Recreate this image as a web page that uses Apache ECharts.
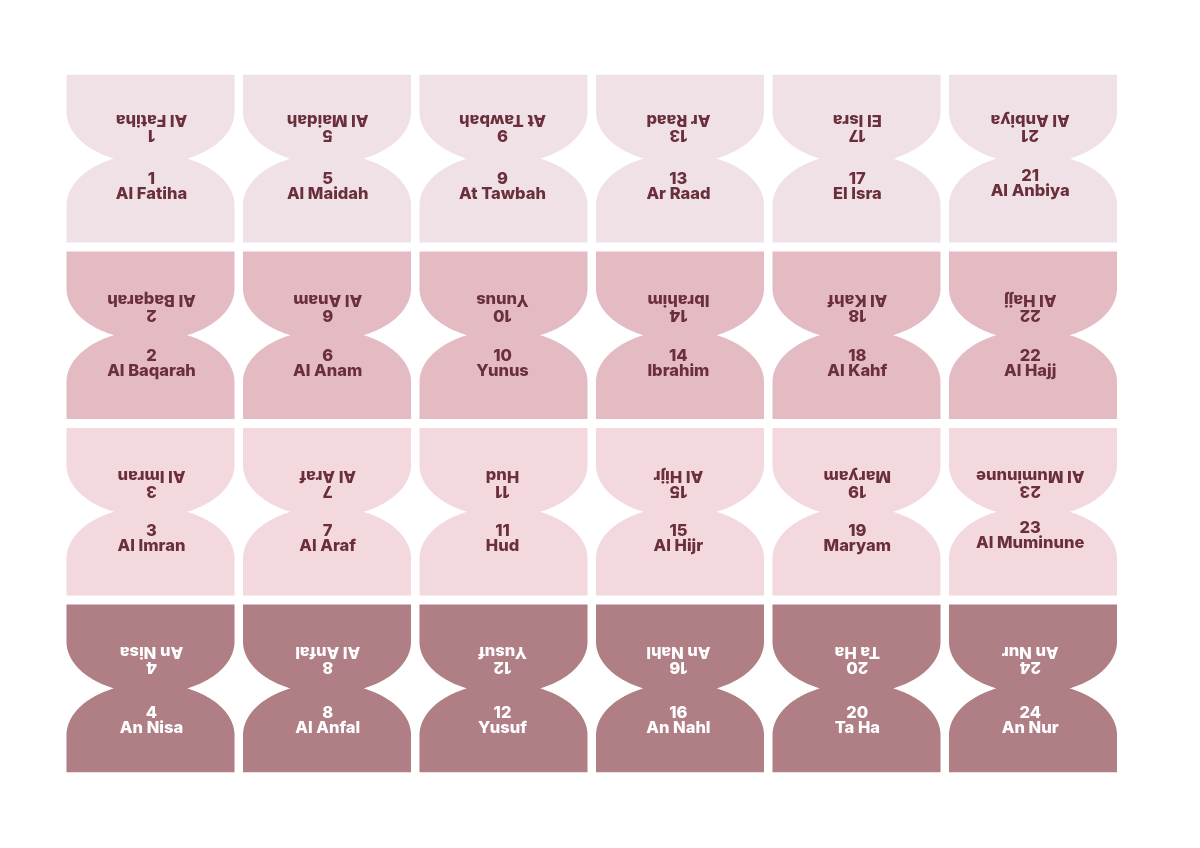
<!DOCTYPE html>
<html><head><meta charset="utf-8">
<style>html,body{margin:0;padding:0;background:#fff}#c{width:1200px;height:848px}</style>
<script src="https://cdn.jsdelivr.net/npm/echarts@6/dist/echarts.min.js"></script>
</head><body><div id="c"></div>
<script>
var surahNumbers = [1,2,3,4,5,6,7,8,9,10,11,12,13,14,15,16,17,18,19,20,21,22,23,24];
var surahNames = ["Al Fatiha","Al Baqarah","Al Imran","An Nisa","Al Maidah","Al Anam","Al Araf","Al Anfal",
  "At Tawbah","Yunus","Hud","Yusuf","Ar Raad","Ibrahim","Al Hijr","An Nahl",
  "El Isra","Al Kahf","Maryam","Ta Ha","Al Anbiya","Al Hajj","Al Muminune","An Nur"];
var columns = ["c1","c2","c3","c4","c5","c6"];
var rows = ["r1","r2","r3","r4"];
var rowFill = ["#f0e1e6","#e4bbc3","#f3d9de","#b07e85"];
var rowInk = ["#6a2f3b","#6a2f3b","#6a2f3b","#ffffff"];

var chart = echarts.init(document.getElementById('c'), null, {renderer:'canvas'});
var cells = surahNumbers.map(function(n,i){
  return [Math.floor(i/4), i%4, n];
});
var FONT = 'Inter, "Open Sans", sans-serif';
var lowerOffset = [1,2,0.5,5.5];
var upperOffset = [0,4,2.5,2.2];
var columnShift = [1,0.7,-1,-1.6,0.8,-2.8];
function renderItem(params, api){
  var col = api.value(0), row = api.value(1), num = api.value(2);
  var name = surahNames[params.dataIndex];
  var c = api.coord([col,row]);
  var band = api.size([1,1]);
  var hw = band[0]*0.476, hh = band[1]*0.4745;
  var cx = c[0], cy = c[1];
  var l = cx-hw, r = cx+hw, t = cy-hh, b = cy+hh;
  var inset = 37, ry = 52;
  var topC = t+inset, botC = b-inset;
  var endA = Math.asin(Math.min(1,(cy-topC)/ry));
  var pts = [[l,t],[r,t]], i, STEPS = 60, a;
  for(i=0;i<=STEPS;i++){ a = endA*i/STEPS; pts.push([cx+hw*Math.cos(a), topC+ry*Math.sin(a)]); }
  for(i=STEPS;i>=0;i--){ a = endA*i/STEPS; pts.push([cx+hw*Math.cos(a), botC-ry*Math.sin(a)]); }
  pts.push([r,b],[l,b]);
  for(i=0;i<=STEPS;i++){ a = endA*i/STEPS; pts.push([cx-hw*Math.cos(a), botC-ry*Math.sin(a)]); }
  for(i=STEPS;i>=0;i--){ a = endA*i/STEPS; pts.push([cx-hw*Math.cos(a), topC+ry*Math.sin(a)]); }
  var ink = rowInk[row];
  var shift = lowerOffset[row] + ((num===21||num===23)?-3:0);
  var tx = cx + columnShift[col];
  var txt = function(s,x,y,rot){
    return {type:'text',x:x,y:y,rotation:rot,
      style:{text:String(s),fill:ink,font:'800 16.5px '+FONT,align:'center',verticalAlign:'middle'}};
  };
  return {type:'group',children:[
    {type:'polygon',shape:{points:pts},style:{fill:rowFill[row]}},
    txt(num,tx,t+103+shift,0),
    txt(name,tx,t+118+shift,0),
    txt(num,tx,t+60+upperOffset[row],Math.PI),
    txt(name,tx,t+45+upperOffset[row],Math.PI)
  ]};
}
chart.setOption({
  animation:false,
  backgroundColor:'#ffffff',
  grid:{left:62.25,top:70.3,width:1059,height:706.4},
  xAxis:{type:'category',data:columns,show:false},
  yAxis:{type:'category',data:rows,inverse:true,show:false},
  series:[{type:'custom',coordinateSystem:'cartesian2d',data:cells,renderItem:renderItem,
    encode:{x:0,y:1}}]
});
</script></body></html>
